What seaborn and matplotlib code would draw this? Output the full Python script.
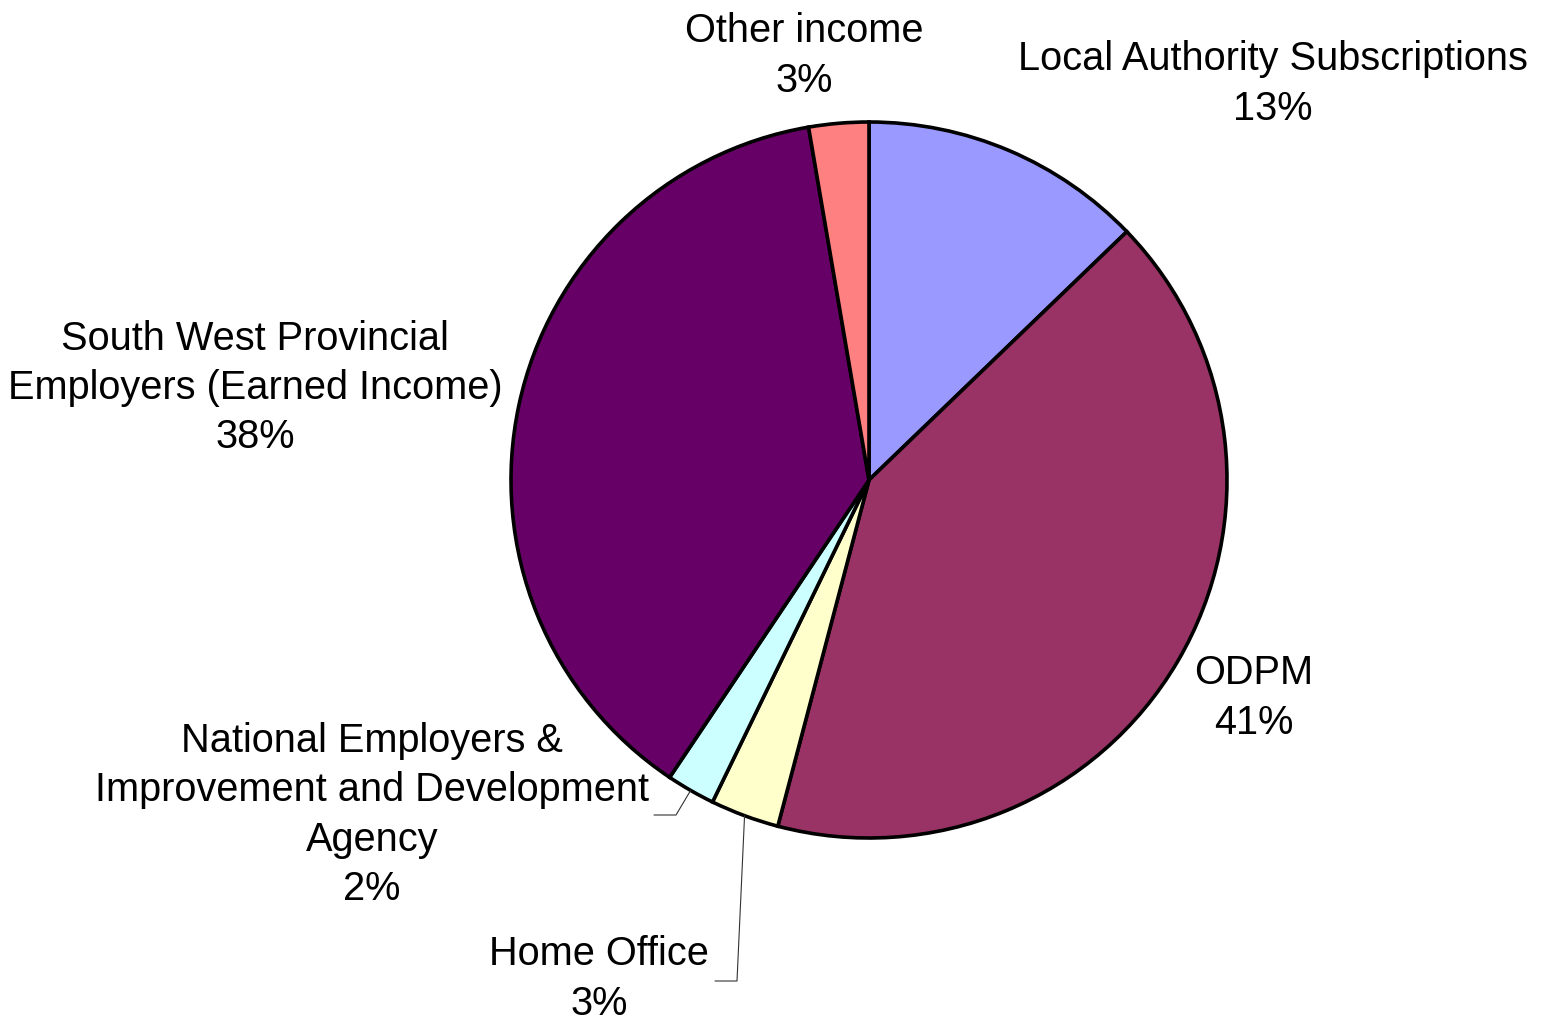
import numpy as np
import matplotlib
matplotlib.use("Agg")
import matplotlib.pyplot as plt
import seaborn as sns

sns.set_theme(style="white")
plt.rcParams['font.family'] = ['Liberation Sans', 'DejaVu Sans']

categories = ["Local Authority Subscriptions", "ODPM", "Home Office",
              "National Employers &\nImprovement and Development\nAgency",
              "South West Provincial\nEmployers (Earned Income)", "Other income"]
values = [12.8, 41.3, 3.1, 2.2, 37.9, 2.7]
pct_labels = ["13%", "41%", "3%", "2%", "38%", "3%"]
colors = ["#9999FF", "#993366", "#FFFFCC", "#CCFFFF", "#660066", "#FF8080"]

W, H = 1543, 1021
fig = plt.figure(figsize=(W / 100, H / 100), dpi=100)
ax = fig.add_axes([0, 0, 1, 1])

def fy(y):
    return H - y

cx, cy, r = 869, fy(480), 358
wedges, _ = ax.pie(values, colors=colors, startangle=90, counterclock=False,
                   center=(cx, cy), radius=r, frame=True,
                   wedgeprops=dict(edgecolor="black", linewidth=2.6))
ax.set_xlim(0, W)
ax.set_ylim(0, H)
ax.axis("off")

# label centres (layout)
label_pos = [(1273, 84), (1254, 698), (599, 979), (372, 815), (255, 388), (804, 56)]
for cat, pct, (x, y) in zip(categories, pct_labels, label_pos):
    ax.text(x, fy(y), f"{cat}\n{pct}", ha="center", va="center",
            multialignment="center", fontsize=28.6, linespacing=1.38, color="black")

# leader lines for small slices
leaders = {2: [(737, 981), (715, 981)], 3: [(676, 815), (654, 815)]}
for idx, pts in leaders.items():
    w = wedges[idx]
    mid = np.deg2rad((w.theta1 + w.theta2) / 2)
    sx, sy = cx + r * np.cos(mid), cy + r * np.sin(mid)
    xs = [sx] + [p[0] for p in pts]
    ys = [sy] + [fy(p[1]) for p in pts]
    ax.plot(xs, ys, color="#333333", linewidth=0.8)

fig.savefig("out.png", dpi=100, facecolor="white")
